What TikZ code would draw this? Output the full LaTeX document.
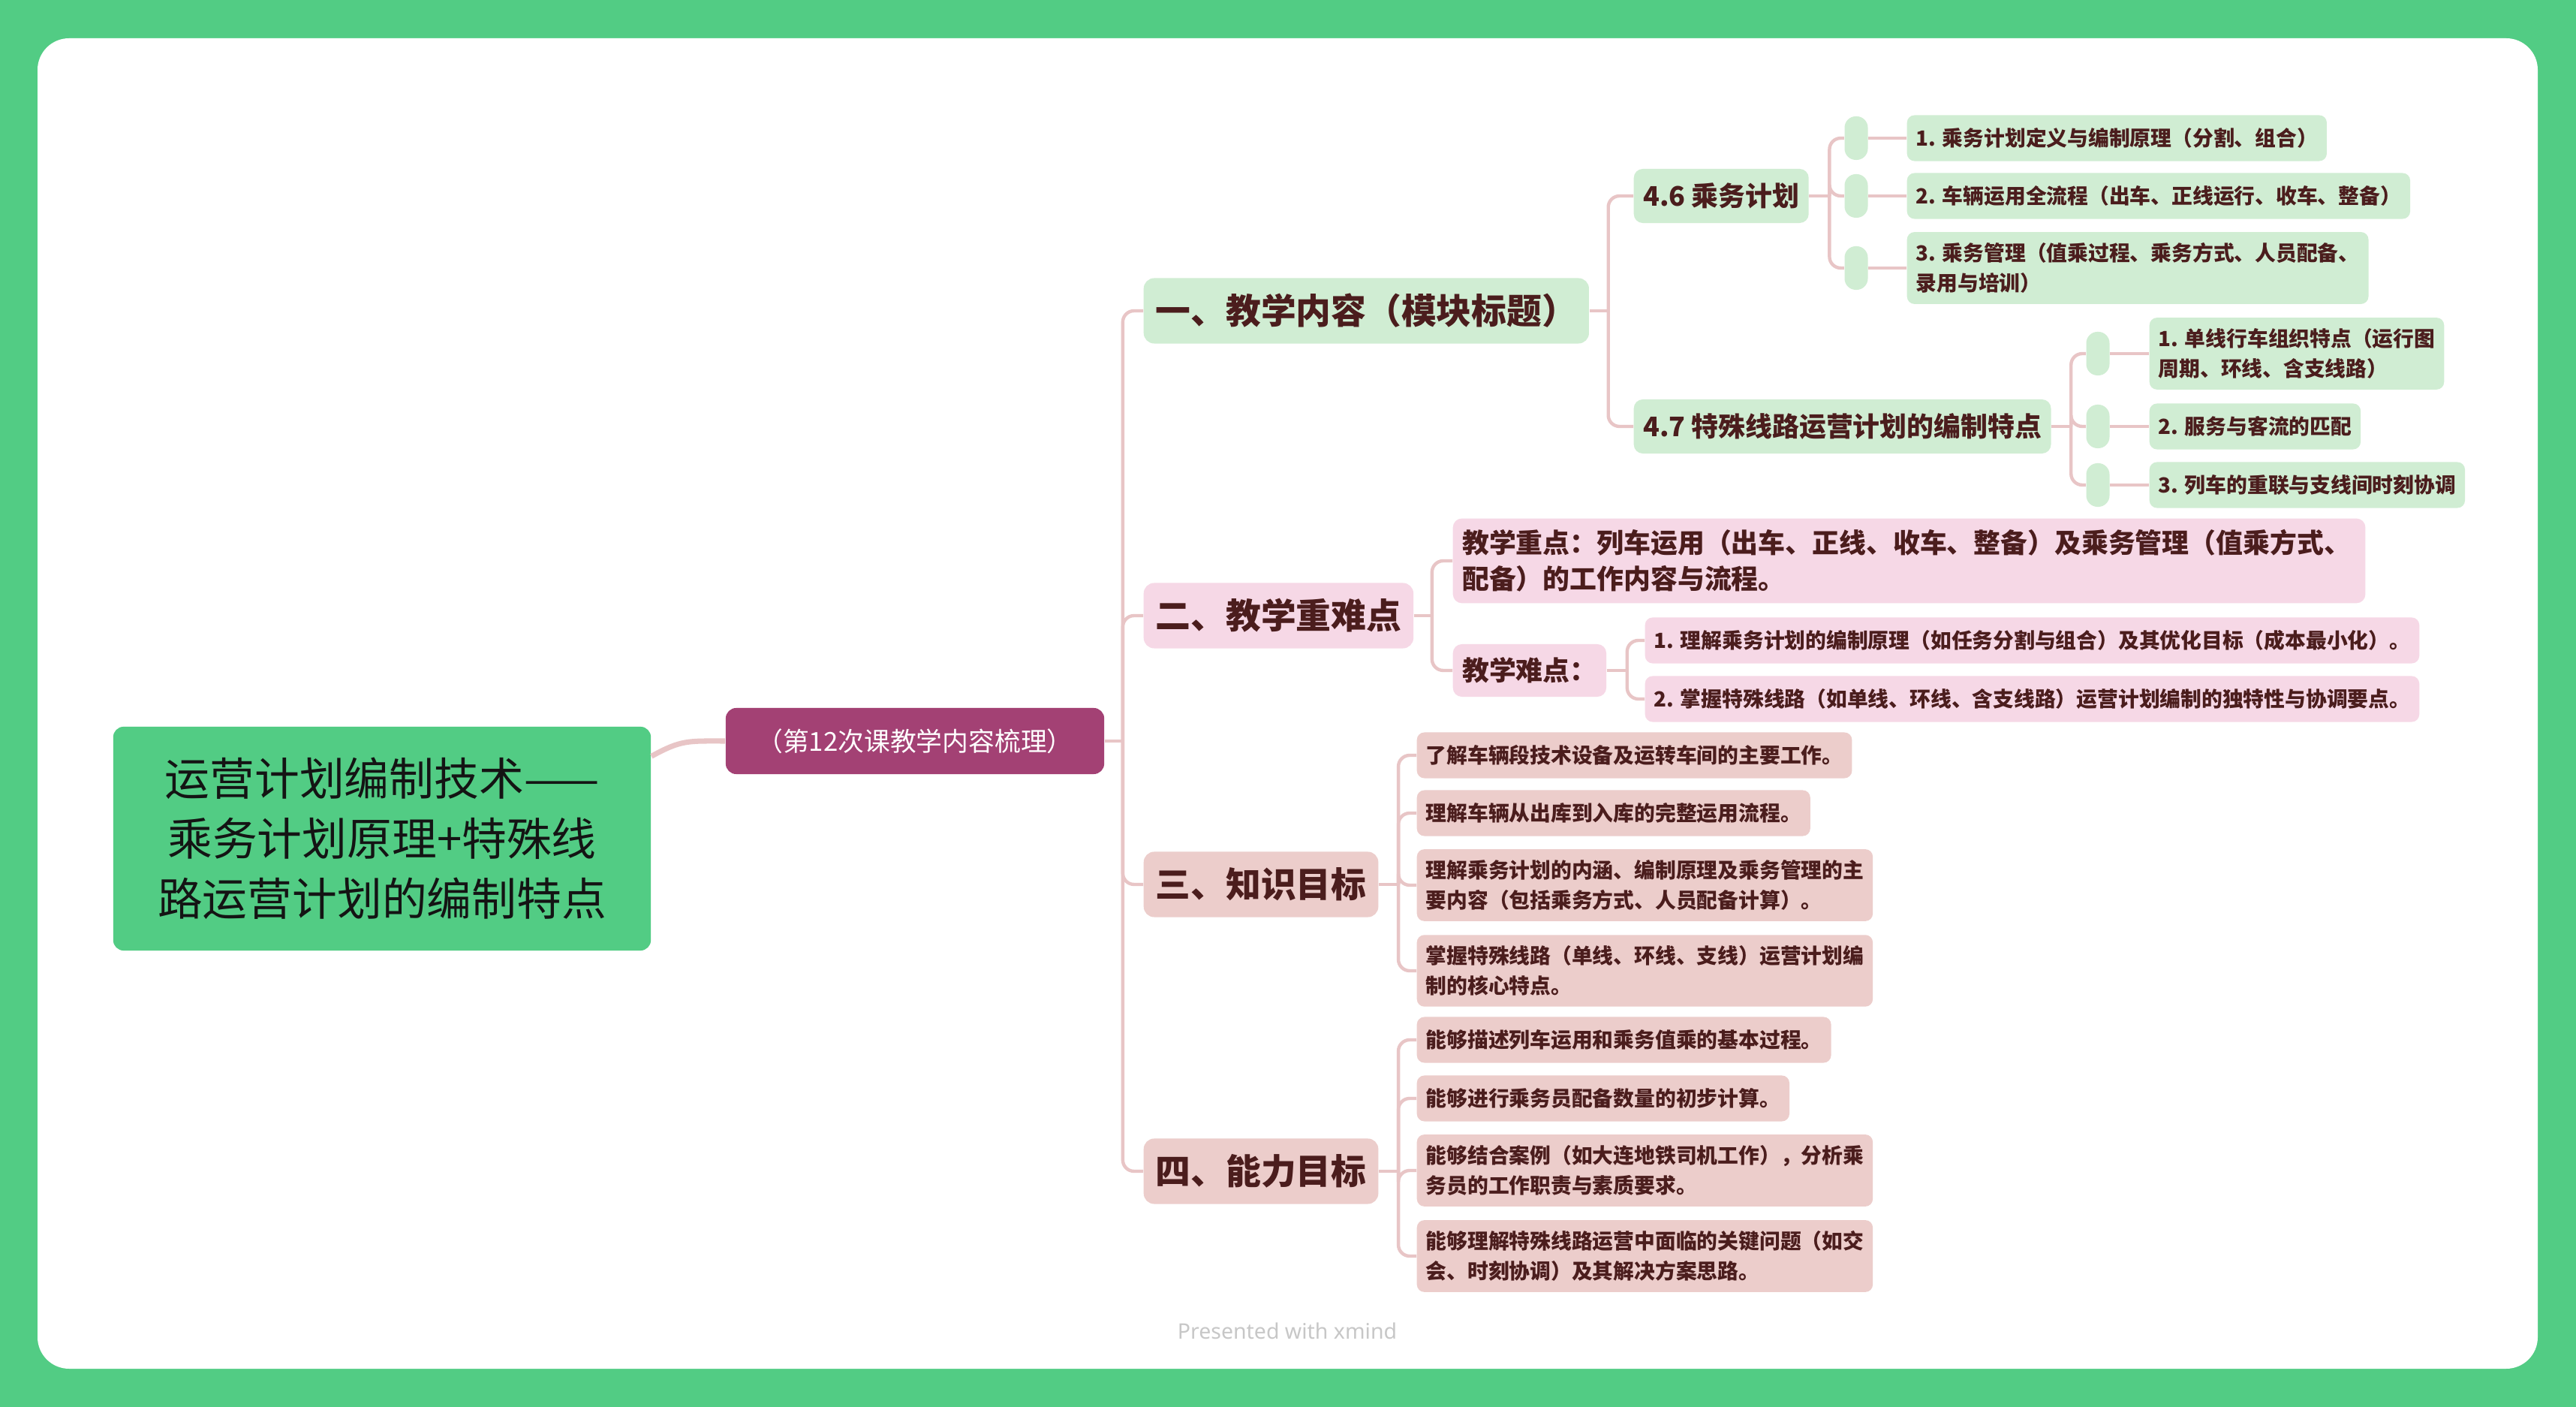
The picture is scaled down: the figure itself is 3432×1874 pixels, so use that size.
\documentclass[tikz,border=0pt]{standalone}
\usepackage{fontspec}
\setmainfont{Noto Sans CJK SC}
\newfontfamily\wmfont{Noto Sans}

\definecolor{bggreen}{HTML}{52CC84}
\definecolor{purplebox}{HTML}{A34174}
\definecolor{lgreen}{HTML}{D0EDD3}
\definecolor{lpink}{HTML}{F6D8E6}
\definecolor{dpink}{HTML}{ECCDCB}
\definecolor{linkc}{HTML}{E8C5C6}
\definecolor{txtbrown}{HTML}{4B1D1D}

\begin{document}
\begin{tikzpicture}[x=0.01cm, y=-0.01cm,
    every node/.style={text=txtbrown},
    rootbox/.style={fill=bggreen, text=black!92, rounded corners=1.4mm, minimum width=7.16cm, minimum height=2.98cm, align=center, font=\fontsize{17}{22.7}\selectfont},
    lesson/.style={fill=purplebox, text=white, rounded corners=1.4mm, minimum width=5.04cm, minimum height=0.88cm, font=\fontsize{9.9}{12}\selectfont},
    topic/.style={anchor=west, rounded corners=1.4mm, inner xsep=1.6mm, minimum height=0.87cm, font=\fontsize{13.3}{16}\selectfont\bfseries},
    sub/.style={anchor=west, rounded corners=1.2mm, inner xsep=1.25mm, inner ysep=1.5mm, minimum height=0.72cm, font=\fontsize{10.2}{13.6}\selectfont\bfseries},
    leaf/.style={anchor=west, rounded corners=1mm, inner xsep=1.2mm, inner ysep=1.45mm, minimum height=0.61cm, align=left, font=\fontsize{7.9}{11.3}\selectfont\bfseries},
    pill/.style={fill=lgreen, inner sep=0pt, minimum width=0.31cm, minimum height=0.58cm, rounded corners=0.15cm},
    link/.style={draw=linkc, line width=1.25pt, rounded corners=1.5mm},
    rootlink/.style={draw=linkc, line width=2pt},
    wmark/.style={text=black!22, font=\wmfont\fontsize{8.1}{10}\selectfont}]

    \useasboundingbox (0,0) rectangle (3432,1874);
    \fill[bggreen] (0,0) rectangle (3432,1874);
    \fill[white, rounded corners=4.2mm] (50,51) rectangle (3381,1823);

    % centre and first level
    \node[rootbox] (root) at (509,1117) {运营计划编制技术——\\乘务计划原理+特殊线\\路运营计划的编制特点};
    \node[lesson] (sum) at (1219,987) {（第12次课教学内容梳理）};

    \node[topic, fill=lgreen] (t1) at (1523,414)  {一、教学内容（模块标题）};
    \node[topic, fill=lpink]  (t2) at (1523,820)  {二、教学重难点};
    \node[topic, fill=dpink]  (t3) at (1523,1178) {三、知识目标};
    \node[topic, fill=dpink]  (t4) at (1523,1560) {四、能力目标};

    % 一
    \node[sub, fill=lgreen] (s46) at (2176,261) {4.6 乘务计划};
    \node[sub, fill=lgreen] (s47) at (2176,568) {4.7 特殊线路运营计划的编制特点};

    \node[pill] (p461) at (2473,184) {};
    \node[pill] (p462) at (2473,261) {};
    \node[pill] (p463) at (2473,357) {};
    \node[leaf, fill=lgreen] (c461) at (2540,184) {1. 乘务计划定义与编制原理（分割、组合）};
    \node[leaf, fill=lgreen] (c462) at (2540,261) {2. 车辆运用全流程（出车、正线运行、收车、整备）};
    \node[leaf, fill=lgreen] (c463) at (2540,357) {3. 乘务管理（值乘过程、乘务方式、人员配备、\\录用与培训）};

    \node[pill] (p471) at (2795,471) {};
    \node[pill] (p472) at (2795,568) {};
    \node[pill] (p473) at (2795,646) {};
    \node[leaf, fill=lgreen] (c471) at (2863,471) {1. 单线行车组织特点（运行图\\周期、环线、含支线路）};
    \node[leaf, fill=lgreen] (c472) at (2863,568) {2. 服务与客流的匹配};
    \node[leaf, fill=lgreen] (c473) at (2863,646) {3. 列车的重联与支线间时刻协调};

    % 二
    \node[sub, fill=lpink, align=left, text width=11.9cm] (key) at (1935,747) {教学重点：列车运用（出车、正线、收车、整备）及乘务管理（值乘方式、\\配备）的工作内容与流程。};
    \node[sub, fill=lpink, minimum height=0.70cm] (hard) at (1935,893) {教学难点：};
    \node[leaf, fill=lpink] (h1) at (2191,853) {1. 理解乘务计划的编制原理（如任务分割与组合）及其优化目标（成本最小化）。};
    \node[leaf, fill=lpink] (h2) at (2191,931) {2. 掌握特殊线路（如单线、环线、含支线路）运营计划编制的独特性与协调要点。};

    % 三
    \node[leaf, fill=dpink] (k1) at (1887,1006) {了解车辆段技术设备及运转车间的主要工作。};
    \node[leaf, fill=dpink] (k2) at (1887,1083) {理解车辆从出库到入库的完整运用流程。};
    \node[leaf, fill=dpink] (k3) at (1887,1179) {理解乘务计划的内涵、编制原理及乘务管理的主\\要内容（包括乘务方式、人员配备计算）。};
    \node[leaf, fill=dpink] (k4) at (1887,1293) {掌握特殊线路（单线、环线、支线）运营计划编\\制的核心特点。};

    % 四
    \node[leaf, fill=dpink] (a1) at (1887,1385) {能够描述列车运用和乘务值乘的基本过程。};
    \node[leaf, fill=dpink] (a2) at (1887,1463) {能够进行乘务员配备数量的初步计算。};
    \node[leaf, fill=dpink] (a3) at (1887,1559) {能够结合案例（如大连地铁司机工作），分析乘\\务员的工作职责与素质要求。};
    \node[leaf, fill=dpink] (a4) at (1887,1673) {能够理解特殊线路运营中面临的关键问题（如交\\会、时刻协调）及其解决方案思路。};

    \node[wmark] (wm) at (1715,1773) {Presented with {\bfseries xmind}};

    % connectors
    \draw[rootlink] (root.17.7) .. controls +(40,-22) and +(-50,0) .. (sum.west);
    \draw[link] (sum.east) -- ++(24,0) coordinate (j0);
    \foreach \t in {t1,t2,t3,t4}
        \draw[link] (j0) |- (\t.west);

    \draw[link] (t1.east) -- ++(25,0) coordinate (j1);
    \draw[link] (j1) |- (s46.west);
    \draw[link] (j1) |- (s47.west);
    \draw[link] (s46.east) -- ++(27,0) coordinate (j46);
    \draw[link] (s47.east) -- ++(26,0) coordinate (j47);
    \foreach \i in {1,2,3} {
        \draw[link] (j46) |- (p46\i.west);
        \draw[link] (p46\i.east) -- (c46\i.west);
        \draw[link] (j47) |- (p47\i.west);
        \draw[link] (p47\i.east) -- (c47\i.west);
    }

    \draw[link] (t2.east) -- ++(24,0) coordinate (j2);
    \draw[link] (j2) |- (key.west);
    \draw[link] (j2) |- (hard.west);
    \draw[link] (hard.east) -- ++(27,0) coordinate (jh);
    \draw[link] (jh) |- (h1.west);
    \draw[link] (jh) |- (h2.west);

    \draw[link] (t3.east) -- ++(26,0) coordinate (j3);
    \draw[link] (t4.east) -- ++(26,0) coordinate (j4);
    \foreach \i in {1,...,4} {
        \draw[link] (j3) |- (k\i.west);
        \draw[link] (j4) |- (a\i.west);
    }
\end{tikzpicture}
\end{document}
